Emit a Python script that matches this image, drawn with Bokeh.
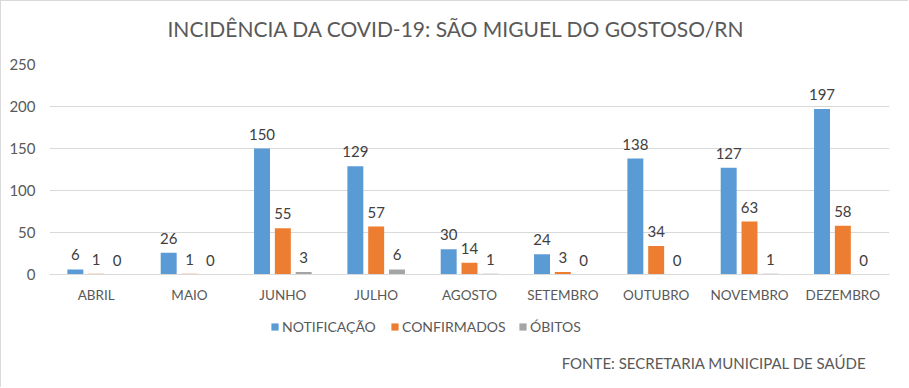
from bokeh.plotting import figure
from bokeh.layouts import column
from bokeh.models import ColumnDataSource, Legend, LegendItem, Label, Range1d, FactorRange
from bokeh.transform import dodge
from bokeh.core.properties import value
from bokeh.embed import file_html
from bokeh.resources import INLINE

months = ["ABRIL", "MAIO", "JUNHO", "JULHO", "AGOSTO", "SETEMBRO", "OUTUBRO", "NOVEMBRO", "DEZEMBRO"]
notificacao = [6, 26, 150, 129, 30, 24, 138, 127, 197]
confirmados = [1, 1, 55, 57, 14, 3, 34, 63, 58]
obitos = [0, 0, 3, 6, 1, 0, 0, 1, 0]
series_names = ["NOTIFICAÇÃO", "CONFIRMADOS", "ÓBITOS"]
colors = ["#5b9bd5", "#ed7d31", "#a5a5a5"]
y_ticks = [0, 50, 100, 150, 200, 250]
title_text = "INCIDÊNCIA DA COVID-19: SÃO MIGUEL DO GOSTOSO/RN"
source_text = "FONTE: SECRETARIA MUNICIPAL DE SAÚDE"

FONT = "Lato"
W = 907

src = ColumnDataSource(dict(
    x=months,
    n=notificacao, c=confirmados, o=obitos,
    nl=[str(v) for v in notificacao],
    cl=[str(v) for v in confirmados],
    ol=[str(v) for v in obitos],
))

def bare(fig):
    fig.outline_line_color = None
    fig.xgrid.grid_line_color = None
    fig.ygrid.grid_line_color = None
    return fig

# --- title strip ---
top = bare(figure(width=W, height=49, x_range=Range1d(0, 1), y_range=Range1d(0, 1),
                  output_backend="svg", toolbar_location=None,
                  x_axis_location=None, y_axis_location=None,
                  min_border_left=0, min_border_right=0, min_border_top=0, min_border_bottom=0))
top.add_layout(Label(x=407, y=22, x_units="screen", y_units="screen", text=title_text,
                     text_align="center", text_baseline="middle",
                     text_font=FONT, text_font_size="21px", text_color="#595959"))

# --- main chart ---
x_range = FactorRange(*months)
p = figure(x_range=x_range, y_range=Range1d(0, 250),
           width=W, height=255, output_backend="svg", toolbar_location=None,
           min_border_left=48, min_border_right=W - 888, min_border_top=14, min_border_bottom=30)

offs = [-0.223, 0.0, 0.223]
keys = ["n", "c", "o"]
lkeys = ["nl", "cl", "ol"]
for off, k, lk, col in zip(offs, keys, lkeys, colors):
    p.vbar(x=dodge("x", off, range=x_range), top=k, width=0.171, source=src,
           fill_color=col, line_color=None)
    p.text(x=dodge("x", off, range=x_range), y=k, text=lk, source=src,
           text_align="center", text_baseline="bottom", y_offset=-9,
           text_font=value(FONT), text_font_size="15px", text_color="#404040")

p.xgrid.grid_line_color = None
p.ygrid.grid_line_color = "#d9d9d9"
p.yaxis.ticker = y_ticks
p.yaxis.axis_line_color = None
p.xaxis.axis_line_color = "#d9d9d9"
for ax in (p.xaxis, p.yaxis):
    ax.major_tick_line_color = None
    ax.minor_tick_line_color = None
    ax.major_tick_out = 0
    ax.major_tick_in = 0
    ax.major_label_text_color = "#595959"
    ax.major_label_text_font = FONT
p.xaxis.major_label_text_font_size = "13.5px"
p.yaxis.major_label_text_font_size = "15px"
p.xaxis.major_label_standoff = 12
p.yaxis.major_label_standoff = 14
p.outline_line_color = None

# --- legend + source strip (same series, drawn outside its visible range) ---
bot = bare(figure(width=W, height=82, x_range=x_range, y_range=Range1d(1000, 1001),
                  output_backend="svg", toolbar_location=None,
                  x_axis_location=None, y_axis_location=None,
                  min_border_left=0, min_border_right=0, min_border_top=0, min_border_bottom=0))
leg_x = [221, 341, 469]
for off, k, col, name, lx in zip(offs, keys, colors, series_names, leg_x):
    r = bot.vbar(x=dodge("x", off, range=x_range), top=k, width=0.171, source=src,
                 fill_color=col, line_color=None)
    bot.add_layout(Legend(items=[LegendItem(label=name, renderers=[r])], location=(lx, 52),
                          label_text_font=FONT, label_text_font_size="14px",
                          label_text_color="#595959",
                          glyph_width=9, glyph_height=9, label_standoff=3,
                          border_line_color=None, background_fill_alpha=0, margin=0, padding=2))
bot.add_layout(Label(x=817, y=25, x_units="screen", y_units="screen", text=source_text,
                     text_align="right", text_baseline="middle",
                     text_font=FONT, text_font_size="15px", text_color="#595959"))

layout = column(top, p, bot, spacing=0)
layout.styles = {"border-left": "1px solid #d9d9d9", "border-top": "1px solid #d9d9d9"}
open("out.html", "w").write(file_html(layout, INLINE))
